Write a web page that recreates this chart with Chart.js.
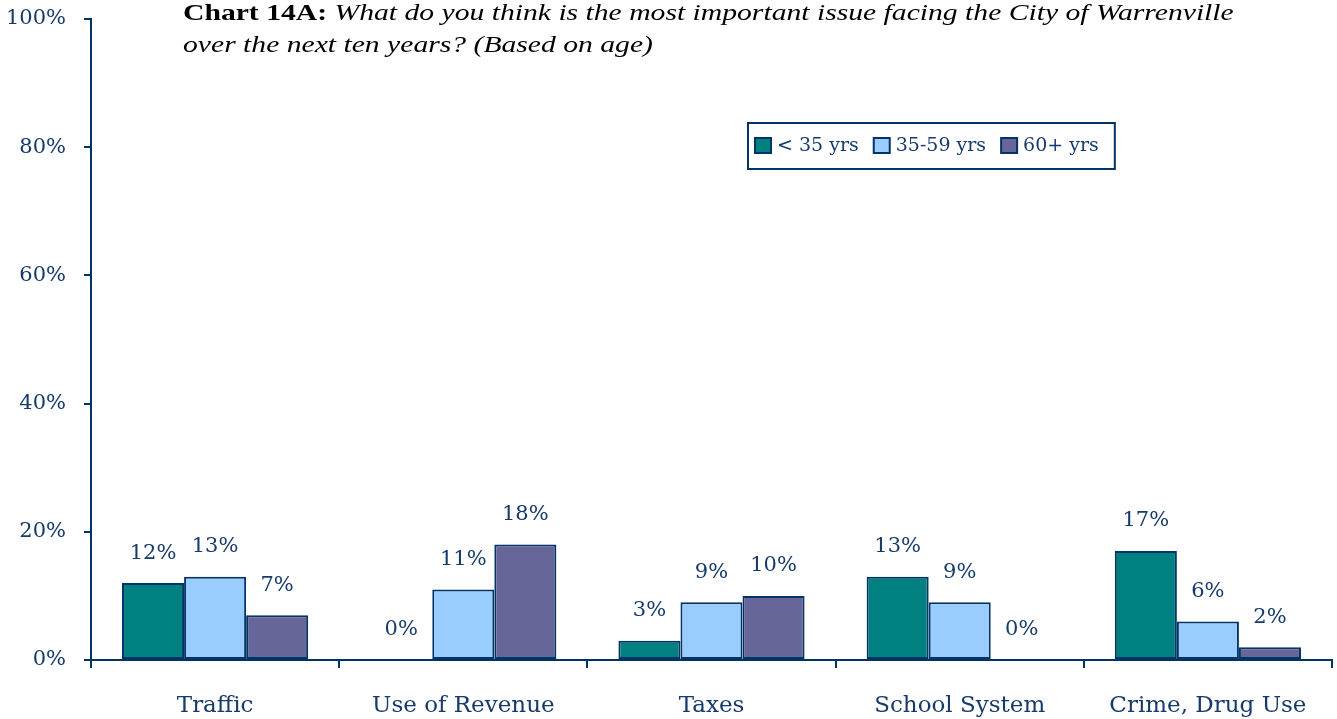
<!DOCTYPE html>
<html>
<head>
<meta charset="UTF-8">
<title>Chart 14A</title>
<script src="https://cdn.jsdelivr.net/npm/chart.js@4.4.0/dist/chart.umd.min.js"></script>
<style>
  html, body { margin: 0; padding: 0; background: #fff; }
  .chartWrapper { width: 1337px; height: 719px; }
</style>
</head>
<body>
<div class="chartWrapper"><canvas id="chart14a"></canvas></div>
<script>
const categories = ['Traffic', 'Use of Revenue', 'Taxes', 'School System', 'Crime, Drug Use'];
const seriesLabels = ['< 35 yrs', '35-59 yrs', '60+ yrs'];
const under35 = [12, 0, 3, 13, 17];
const age35to59 = [13, 11, 9, 9, 6];
const over60 = [7, 18, 10, 0, 2];
const yTickStep = 20;
const yMax = 100;

const navy = '#003366';
const textColor = '#163a6b';
const bodyFont = "'DejaVu Serif', serif";
const titleFont = "'Liberation Serif', serif";

// value labels above each bar
const barLabels = {
  id: 'barLabels',
  afterDatasetsDraw(chart) {
    const ctx = chart.ctx;
    ctx.save();
    ctx.font = '21px ' + bodyFont;
    ctx.fillStyle = textColor;
    ctx.textAlign = 'center';
    ctx.textBaseline = 'middle';
    chart.data.datasets.forEach((ds, i) => {
      chart.getDatasetMeta(i).data.forEach((bar, j) => {
        ctx.fillText(ds.data[j] + '%', bar.x, bar.y - 30);
      });
    });
    ctx.restore();
  }
};

// two line title, bold label then italic question (source text is a bit stretched sideways)
const titleText = {
  id: 'titleText',
  afterDraw(chart) {
    const ctx = chart.ctx;
    ctx.save();
    ctx.translate(183, 0);
    ctx.scale(1.235, 1);
    ctx.fillStyle = '#000';
    ctx.textBaseline = 'alphabetic';
    ctx.textAlign = 'left';
    ctx.font = 'bold 24px ' + titleFont;
    const lead = 'Chart 14A:';
    ctx.fillText(lead, 0, 20);
    const w = ctx.measureText(lead).width;
    ctx.font = 'italic 24px ' + titleFont;
    ctx.fillText('What do you think is the most important issue facing the City of Warrenville', w + 6, 20);
    ctx.fillText('over the next ten years? (Based on age)', 0, 52);
    ctx.restore();
  }
};

// boxed legend inside the plot
const boxLegend = {
  id: 'boxLegend',
  afterDraw(chart) {
    const ctx = chart.ctx;
    const left = 748, top = 123, height = 46;
    ctx.save();
    ctx.font = '19px ' + bodyFont;
    ctx.textBaseline = 'middle';
    let x = left + 7;
    const items = chart.data.datasets.map(ds => {
      const item = { x: x, label: ds.label, color: ds.backgroundColor };
      x += 16 + 6 + ctx.measureText(ds.label).width + 15;
      return item;
    });
    const right = x - 15 + 16;
    ctx.fillStyle = '#fff';
    ctx.fillRect(left, top, right - left, height);
    ctx.strokeStyle = navy;
    ctx.lineWidth = 2;
    ctx.strokeRect(left, top, right - left, height);
    items.forEach(it => {
      ctx.fillStyle = it.color;
      ctx.fillRect(it.x, top + 15, 16, 15);
      ctx.strokeRect(it.x, top + 15, 16, 15);
      ctx.fillStyle = textColor;
      ctx.fillText(it.label, it.x + 22, top + height / 2);
    });
    ctx.restore();
  }
};

const datasetStyle = {
  borderColor: navy,
  borderWidth: 2,
  borderSkipped: false,
  categoryPercentage: 0.75,
  barPercentage: 1.0
};

new Chart(document.getElementById('chart14a'), {
  type: 'bar',
  data: {
    labels: categories,
    datasets: [
      Object.assign({ label: seriesLabels[0], data: under35, backgroundColor: '#008080' }, datasetStyle),
      Object.assign({ label: seriesLabels[1], data: age35to59, backgroundColor: '#99ccff' }, datasetStyle),
      Object.assign({ label: seriesLabels[2], data: over60, backgroundColor: '#666699' }, datasetStyle)
    ]
  },
  options: {
    responsive: true,
    maintainAspectRatio: false,
    animation: false,
    layout: { padding: { top: 19, right: 5, left: 0, bottom: 0 } },
    plugins: {
      legend: { display: false },
      title: { display: false },
      tooltip: { enabled: false }
    },
    scales: {
      x: {
        afterFit(scale) { scale.height = 59; scale.paddingLeft = 0; scale.paddingRight = 0; },
        grid: { offset: true, drawOnChartArea: false, tickLength: 8, color: navy, lineWidth: 2 },
        border: { color: navy, width: 2 },
        ticks: { color: textColor, font: { family: bodyFont, size: 23 }, padding: 24, maxRotation: 0 }
      },
      y: {
        min: 0,
        max: yMax,
        afterFit(scale) { scale.width = 91; scale.paddingTop = 0; scale.paddingBottom = 0; },
        grid: { drawOnChartArea: false, tickLength: 7, color: navy, lineWidth: 2 },
        border: { color: navy, width: 2 },
        ticks: {
          stepSize: yTickStep,
          color: textColor,
          font: { family: bodyFont, size: 21 },
          padding: 18,
          callback: v => v + '%'
        }
      }
    }
  },
  plugins: [barLabels, titleText, boxLegend]
});
</script>
</body>
</html>
